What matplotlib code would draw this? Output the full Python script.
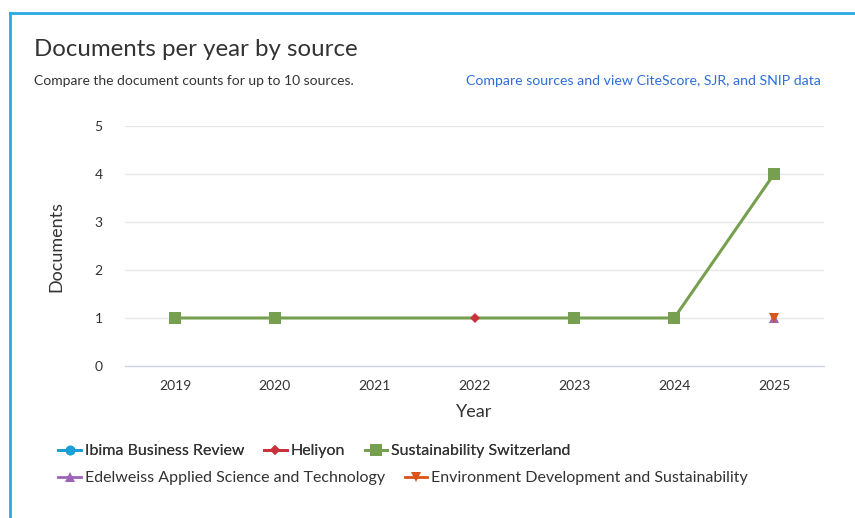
import matplotlib
matplotlib.use("Agg")
import matplotlib.pyplot as plt
from matplotlib.lines import Line2D

plt.rcParams['font.family'] = ['Lato', 'DejaVu Sans']

years = [2019, 2020, 2021, 2022, 2023, 2024, 2025]
sources = ["Ibima Business Review", "Heliyon", "Sustainability Switzerland",
           "Edelweiss Applied Science and Technology",
           "Environment Development and Sustainability"]
ibima = [None, None, None, None, None, None, None]
heliyon = [None, None, None, 1, None, None, None]
sustainability = [1, 1, None, None, 1, 1, 4]
edelweiss = [None, None, None, None, None, None, 1]
environment = [None, None, None, None, None, None, 1]

colors = ["#1a9fd6", "#c8323c", "#76a04f", "#9c63b9", "#d9541a"]
markers = ["o", "D", "s", "^", "v"]
msizes = [7, 5, 8, 7, 7]
series = [ibima, heliyon, sustainability, edelweiss, environment]
zorders = [3, 4, 3, 3, 4]

fig = plt.figure(figsize=(8.55, 5.18), dpi=100)
fig.patch.set_facecolor("white")

ax = fig.add_axes([125/855, 1-366/518, (824-125)/855, (366-126)/518])
handles = []
for name, vals, c, m, ms, z in zip(sources, series, colors, markers, msizes, zorders):
    xs = [y for y, v in zip(years, vals) if v is not None]
    ys = [v for v in vals if v is not None]
    h, = ax.plot(xs, ys, color=c, lw=2.2, marker=m, markersize=ms,
                 markeredgewidth=0, label=name, zorder=z)
    handles.append(h)

ax.set_xlim(2018.5, 2025.5)
ax.set_ylim(0, 5)
ax.set_xticks(years)
ax.set_xticklabels([str(y) for y in years])
ax.set_yticks(range(0, 6))
ax.grid(axis='y', color="#e6e6e6", lw=1)
ax.set_axisbelow(True)
for s in ["top", "right", "left"]:
    ax.spines[s].set_visible(False)
ax.spines["bottom"].set_color("#ccd6eb")
ax.spines["bottom"].set_linewidth(1)
ax.tick_params(axis='both', length=0, labelsize=10, labelcolor="#333333")
ax.tick_params(axis='y', pad=16)
ax.tick_params(axis='x', pad=10)
ax.set_xlabel("Year", fontsize=13, color="#333333", labelpad=9)
ax.set_ylabel("Documents", fontsize=13, color="#333333", labelpad=22)

fig.text(34/855, 1-50/518, "Documents per year by source", fontsize=17.3,
         color="#333333", va="center", ha="left")
fig.text(34/855, 1-81/518, "Compare the document counts for up to 10 sources.",
         fontsize=10, color="#333333", va="center", ha="left")
fig.text(821/855, 1-81/518, "Compare sources and view CiteScore, SJR, and SNIP data",
         fontsize=10.2, color="#2e6fd8", va="center", ha="right")

legkw = dict(frameon=False, fontsize=11.5, handlelength=1.4, handletextpad=0.25,
             columnspacing=1.25, labelcolor="#333333", loc="center left")
leg1 = fig.legend(handles[:3], sources[:3], bbox_to_anchor=(44/855, 1-451/518),
                  ncol=3, **legkw)
fig.add_artist(leg1)
leg2 = fig.legend(handles[3:], sources[3:], bbox_to_anchor=(44/855, 1-478/518),
                  ncol=2, **legkw)
for leg in (leg1, leg2):
    for ln in leg.get_lines():
        ln.set_linewidth(2)

fig.add_artist(Line2D([10/855, 1], [1-13/518, 1-13/518], color="#29aae1", lw=2,
                      transform=fig.transFigure))
fig.add_artist(Line2D([10/855, 10/855], [0, 1-13/518], color="#29aae1", lw=2,
                      transform=fig.transFigure))

fig.savefig("out.png", dpi=100, facecolor="white")
